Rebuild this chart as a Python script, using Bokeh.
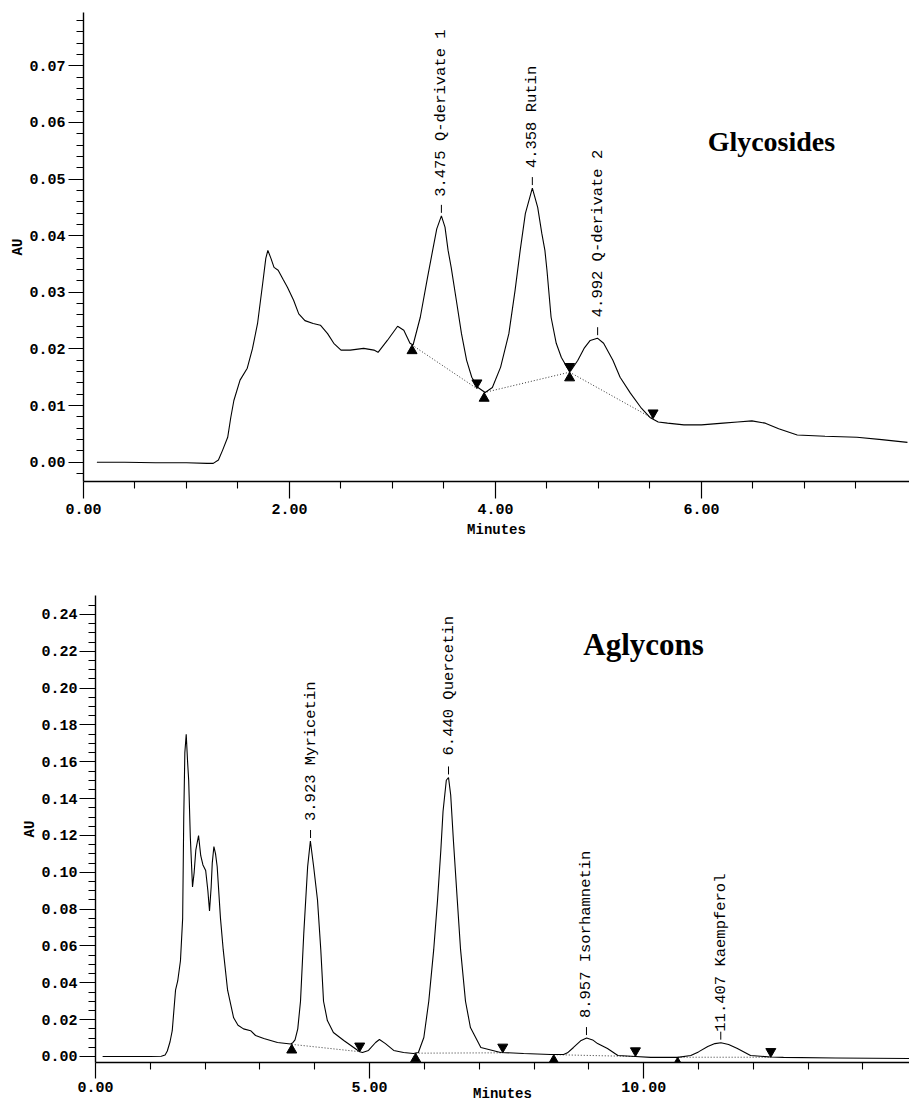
import math
from bokeh.plotting import figure
from bokeh.models import FixedTicker, NumeralTickFormatter, Label
from bokeh.embed import file_html
from bokeh.resources import INLINE
from bokeh.core.properties import value

# ---------------- Glycosides chromatogram (top) ----------------
gly_time = [0.13, 0.40, 0.70, 1.00, 1.20, 1.26, 1.31, 1.35, 1.40, 1.43, 1.46, 1.52, 1.59, 1.64,
            1.69, 1.74, 1.77, 1.79, 1.82, 1.85, 1.89, 1.94, 1.98, 2.04, 2.09, 2.15, 2.23, 2.30,
            2.37, 2.43, 2.50, 2.59, 2.72, 2.82, 2.86, 2.95, 3.05, 3.11, 3.17, 3.20, 3.27, 3.34,
            3.39, 3.43, 3.475, 3.51, 3.54, 3.57, 3.62, 3.67, 3.72, 3.77, 3.83, 3.90, 3.97, 4.05,
            4.13, 4.19, 4.24, 4.29, 4.358, 4.41, 4.45, 4.48, 4.50, 4.54, 4.59, 4.64, 4.70, 4.73,
            4.80, 4.86, 4.92, 4.99, 5.05, 5.14, 5.21, 5.31, 5.41, 5.50, 5.58, 5.67, 5.83, 6.00,
            6.21, 6.35, 6.49, 6.62, 6.75, 6.93, 7.20, 7.51, 7.75, 8.00]
gly_au = [0.0000, 0.0000, -0.0001, -0.0001, -0.0002, -0.0002, 0.0004, 0.0021, 0.0044, 0.0079,
          0.0109, 0.0145, 0.0166, 0.0200, 0.0245, 0.0316, 0.0360, 0.0374, 0.0360, 0.0344,
          0.0339, 0.0322, 0.0309, 0.0286, 0.0262, 0.0250, 0.0245, 0.0242, 0.0227, 0.0210,
          0.0198, 0.0198, 0.0201, 0.0198, 0.0194, 0.0215, 0.0240, 0.0233, 0.0210, 0.0207,
          0.0256, 0.0326, 0.0374, 0.0412, 0.0435, 0.0415, 0.0374, 0.0344, 0.0286, 0.0227,
          0.0180, 0.0150, 0.0132, 0.0123, 0.0132, 0.0168, 0.0227, 0.0303, 0.0374, 0.0439,
          0.0484, 0.0450, 0.0404, 0.0374, 0.0339, 0.0256, 0.0210, 0.0185, 0.0166, 0.0161,
          0.0180, 0.0201, 0.0215, 0.0219, 0.0210, 0.0180, 0.0150, 0.0122, 0.0097, 0.0079,
          0.0071, 0.0069, 0.0066, 0.0066, 0.0069, 0.0071, 0.0073, 0.0069, 0.0059, 0.0048,
          0.0046, 0.0044, 0.0040, 0.0035]
gly_peak_rt = [3.475, 4.358, 4.992]
gly_peak_au = [0.0435, 0.0484, 0.0219]
gly_peak_names = ["3.475 Q-derivate 1", "4.358 Rutin", "4.992 Q-derivate 2"]
gly_start_t = [3.19, 3.89, 4.72]
gly_start_au = [0.0207, 0.0123, 0.0159]
gly_end_t = [3.82, 4.72, 5.53]
gly_end_au = [0.0130, 0.0159, 0.0077]
gly_x_major = [0, 2, 4, 6]
gly_y_major = [0.00, 0.01, 0.02, 0.03, 0.04, 0.05, 0.06, 0.07]

# ---------------- Aglycons chromatogram (bottom) ----------------
agl_time = [0.13, 0.60, 1.00, 1.20, 1.27, 1.31, 1.36, 1.40, 1.46, 1.50, 1.55, 1.59, 1.61, 1.63,
            1.655, 1.68, 1.70, 1.73, 1.77, 1.80, 1.83, 1.88, 1.92, 1.96, 2.01, 2.05, 2.08, 2.11,
            2.13, 2.16, 2.19, 2.22, 2.28, 2.33, 2.41, 2.52, 2.60, 2.70, 2.83, 2.92, 3.07, 3.32,
            3.56, 3.60, 3.64, 3.69, 3.74, 3.80, 3.87, 3.92, 3.98, 4.05, 4.11, 4.16, 4.23, 4.34,
            4.53, 4.71, 4.82, 4.87, 4.98, 5.11, 5.18, 5.29, 5.44, 5.62, 5.80, 5.89, 5.99, 6.08,
            6.17, 6.24, 6.30, 6.34, 6.40, 6.44, 6.48, 6.53, 6.60, 6.66, 6.75, 6.84, 7.03, 7.39,
            7.81, 8.30, 8.54, 8.61, 8.72, 8.85, 8.96, 9.07, 9.16, 9.34, 9.53, 9.85, 10.13, 10.62,
            10.86, 11.00, 11.17, 11.30, 11.41, 11.55, 11.71, 11.95, 12.32, 12.55, 13.50, 14.85]
agl_au = [0.0000, 0.0000, 0.0000, 0.0001, 0.0008, 0.0030, 0.0080, 0.0140, 0.0360, 0.0410,
          0.0520, 0.0750, 0.1300, 0.1650, 0.1750, 0.1600, 0.1500, 0.1190, 0.0920, 0.1000,
          0.1120, 0.1200, 0.1090, 0.1040, 0.1010, 0.0900, 0.0790, 0.0920, 0.1050, 0.1140,
          0.1100, 0.1030, 0.0750, 0.0580, 0.0360, 0.0210, 0.0170, 0.0150, 0.0140, 0.0114,
          0.0098, 0.0076, 0.0068, 0.0075, 0.0090, 0.0150, 0.0300, 0.0670, 0.1030, 0.1170,
          0.1030, 0.0850, 0.0580, 0.0300, 0.0195, 0.0130, 0.0087, 0.0049, 0.0026, 0.0022,
          0.0033, 0.0076, 0.0092, 0.0070, 0.0033, 0.0022, 0.0016, 0.0022, 0.0103, 0.0300,
          0.0580, 0.0850, 0.1120, 0.1330, 0.1500, 0.1515, 0.1420, 0.1170, 0.0850, 0.0580,
          0.0300, 0.0157, 0.0049, 0.0022, 0.0016, 0.0011, 0.0011, 0.0020, 0.0049, 0.0085,
          0.0100, 0.0090, 0.0070, 0.0043, 0.0005, 0.0000, -0.0005, -0.0005, 0.0005, 0.0025,
          0.0054, 0.0070, 0.0075, 0.0065, 0.0043, 0.0005, -0.0003, -0.0005, -0.0008, -0.0011]
agl_peak_rt = [3.923, 6.440, 8.957, 11.407]
agl_peak_au = [0.1170, 0.1515, 0.0100, 0.0075]
agl_peak_names = ["3.923 Myricetin", "6.440 Quercetin", "8.957 Isorhamnetin", "11.407 Kaempferol"]
agl_start_t = [3.58, 5.84, 8.36, 10.62]
agl_start_au = [0.0066, 0.0018, 0.0010, -0.0004]
agl_end_t = [4.82, 7.43, 9.85, 12.32]
agl_end_au = [0.0026, 0.0020, 0.0000, -0.0004]
agl_x_major = [0, 5, 10]
agl_y_major = [0.00, 0.02, 0.04, 0.06, 0.08, 0.10, 0.12, 0.14, 0.16, 0.18, 0.20, 0.22, 0.24]

MONO = "Liberation Mono"
MARKER = 10


def style_axes(p, xmaj, xmin, ymaj, ymin, ytick, ystand, xtick, xstand):
    p.grid.visible = False
    p.outline_line_color = None
    p.background_fill_color = "white"
    p.border_fill_color = "white"
    p.xaxis.ticker = FixedTicker(ticks=xmaj, minor_ticks=xmin)
    p.yaxis.ticker = FixedTicker(ticks=ymaj, minor_ticks=ymin)
    p.xaxis.formatter = NumeralTickFormatter(format="0.00")
    p.yaxis.formatter = NumeralTickFormatter(format="0.00")
    for ax in (p.xaxis, p.yaxis):
        ax.axis_line_color = "black"
        ax.axis_line_width = 1.4
        ax.major_tick_line_color = "black"
        ax.minor_tick_line_color = "black"
        ax.major_tick_line_width = 1.2
        ax.minor_tick_line_width = 1.1
        ax.major_tick_in = 0
        ax.minor_tick_in = 0
        ax.minor_tick_out = 7
        ax.major_label_text_font = MONO
        ax.major_label_text_font_style = "bold"
        ax.major_label_text_font_size = "15px"
        ax.major_label_text_color = "black"
        ax.axis_label_text_font = MONO
        ax.axis_label_text_font_style = "bold"
        ax.axis_label_text_font_size = "14px"
        ax.axis_label_text_color = "black"
    p.yaxis.major_tick_out = ytick
    p.yaxis.major_label_standoff = ystand
    p.yaxis.axis_label = "AU"
    p.yaxis.axis_label_standoff = 0
    p.xaxis.major_tick_out = xtick
    p.xaxis.major_label_standoff = xstand
    p.xaxis.axis_label = "Minutes"


def draw(p, t, au, prt, pau, names, st, sau, et, eau, ypp, gaps):
    p.line(t, au, line_color="black", line_width=1.1)
    p.segment(x0=st, y0=sau, x1=et, y1=eau, line_color="black", line_width=1,
              line_dash="1 2", line_alpha=0.8)
    off = MARKER * math.sqrt(3) / 3 * ypp
    p.scatter(st, [v - off for v in sau], marker="triangle", size=MARKER,
              fill_color="black", line_color="black")
    p.scatter(et, [v + off for v in eau], marker="inverted_triangle", size=MARKER,
              fill_color="black", line_color="black")
    p.segment(x0=prt, y0=[v + 3 * ypp for v in pau], x1=prt, y1=[v + 11 * ypp for v in pau],
              line_color="black", line_width=1)
    p.text(x=prt, y=[v + g * ypp for v, g in zip(pau, gaps)], text=names, angle=math.pi / 2,
           text_align="left", text_baseline="middle", text_font=value(MONO),
           text_font_size="15.5px", text_color="black")


# ---- top figure ----
top_y = (-0.0034, 0.0794)
top = figure(width=909, height=545, x_range=(0, 8.02), y_range=top_y,
             output_backend="svg", toolbar_location=None,
             min_border_left=83, min_border_right=0, min_border_top=12, min_border_bottom=64)
style_axes(top, gly_x_major, [v * 0.5 for v in range(1, 16) if v % 4],
           gly_y_major, [round(i * 0.002, 3) for i in range(-1, 40) if i % 5],
           ytick=15, ystand=3, xtick=17, xstand=5)
top.xaxis.axis_label_standoff = 5
top_ypp = (top_y[1] - top_y[0]) / 469.0
draw(top, gly_time, gly_au, gly_peak_rt, gly_peak_au, gly_peak_names,
     gly_start_t, gly_start_au, gly_end_t, gly_end_au, top_ypp, [19, 20, 21])
top.add_layout(Label(x=6.06, y=0.0566, text="Glycosides", text_font="Liberation Serif",
                     text_font_style="bold", text_font_size="28px", text_color="black",
                     text_align="left", text_baseline="middle"))

# ---- bottom figure ----
bot_y = (-0.00326, 0.2503)
bot = figure(width=909, height=562, x_range=(0, 14.85), y_range=bot_y,
             output_backend="svg", toolbar_location=None,
             min_border_left=95, min_border_right=0, min_border_top=50, min_border_bottom=45)
style_axes(bot, agl_x_major, [v for v in range(1, 15) if v % 5],
           agl_y_major, [round(i * 0.005, 3) for i in range(0, 50) if i % 4],
           ytick=16, ystand=2, xtick=16, xstand=3)
bot.xaxis.axis_label_standoff = -9
bot_ypp = (bot_y[1] - bot_y[0]) / 467.0
draw(bot, agl_time, agl_au, agl_peak_rt, agl_peak_au, agl_peak_names,
     agl_start_t, agl_start_au, agl_end_t, agl_end_au, bot_ypp, [20, 22, 20, 11])
bot.add_layout(Label(x=8.90, y=0.2235, text="Aglycons", text_font="Liberation Serif",
                     text_font_style="bold", text_font_size="31px", text_color="black",
                     text_align="left", text_baseline="middle"))

open("out.html", "w").write(file_html([top, bot], INLINE))
